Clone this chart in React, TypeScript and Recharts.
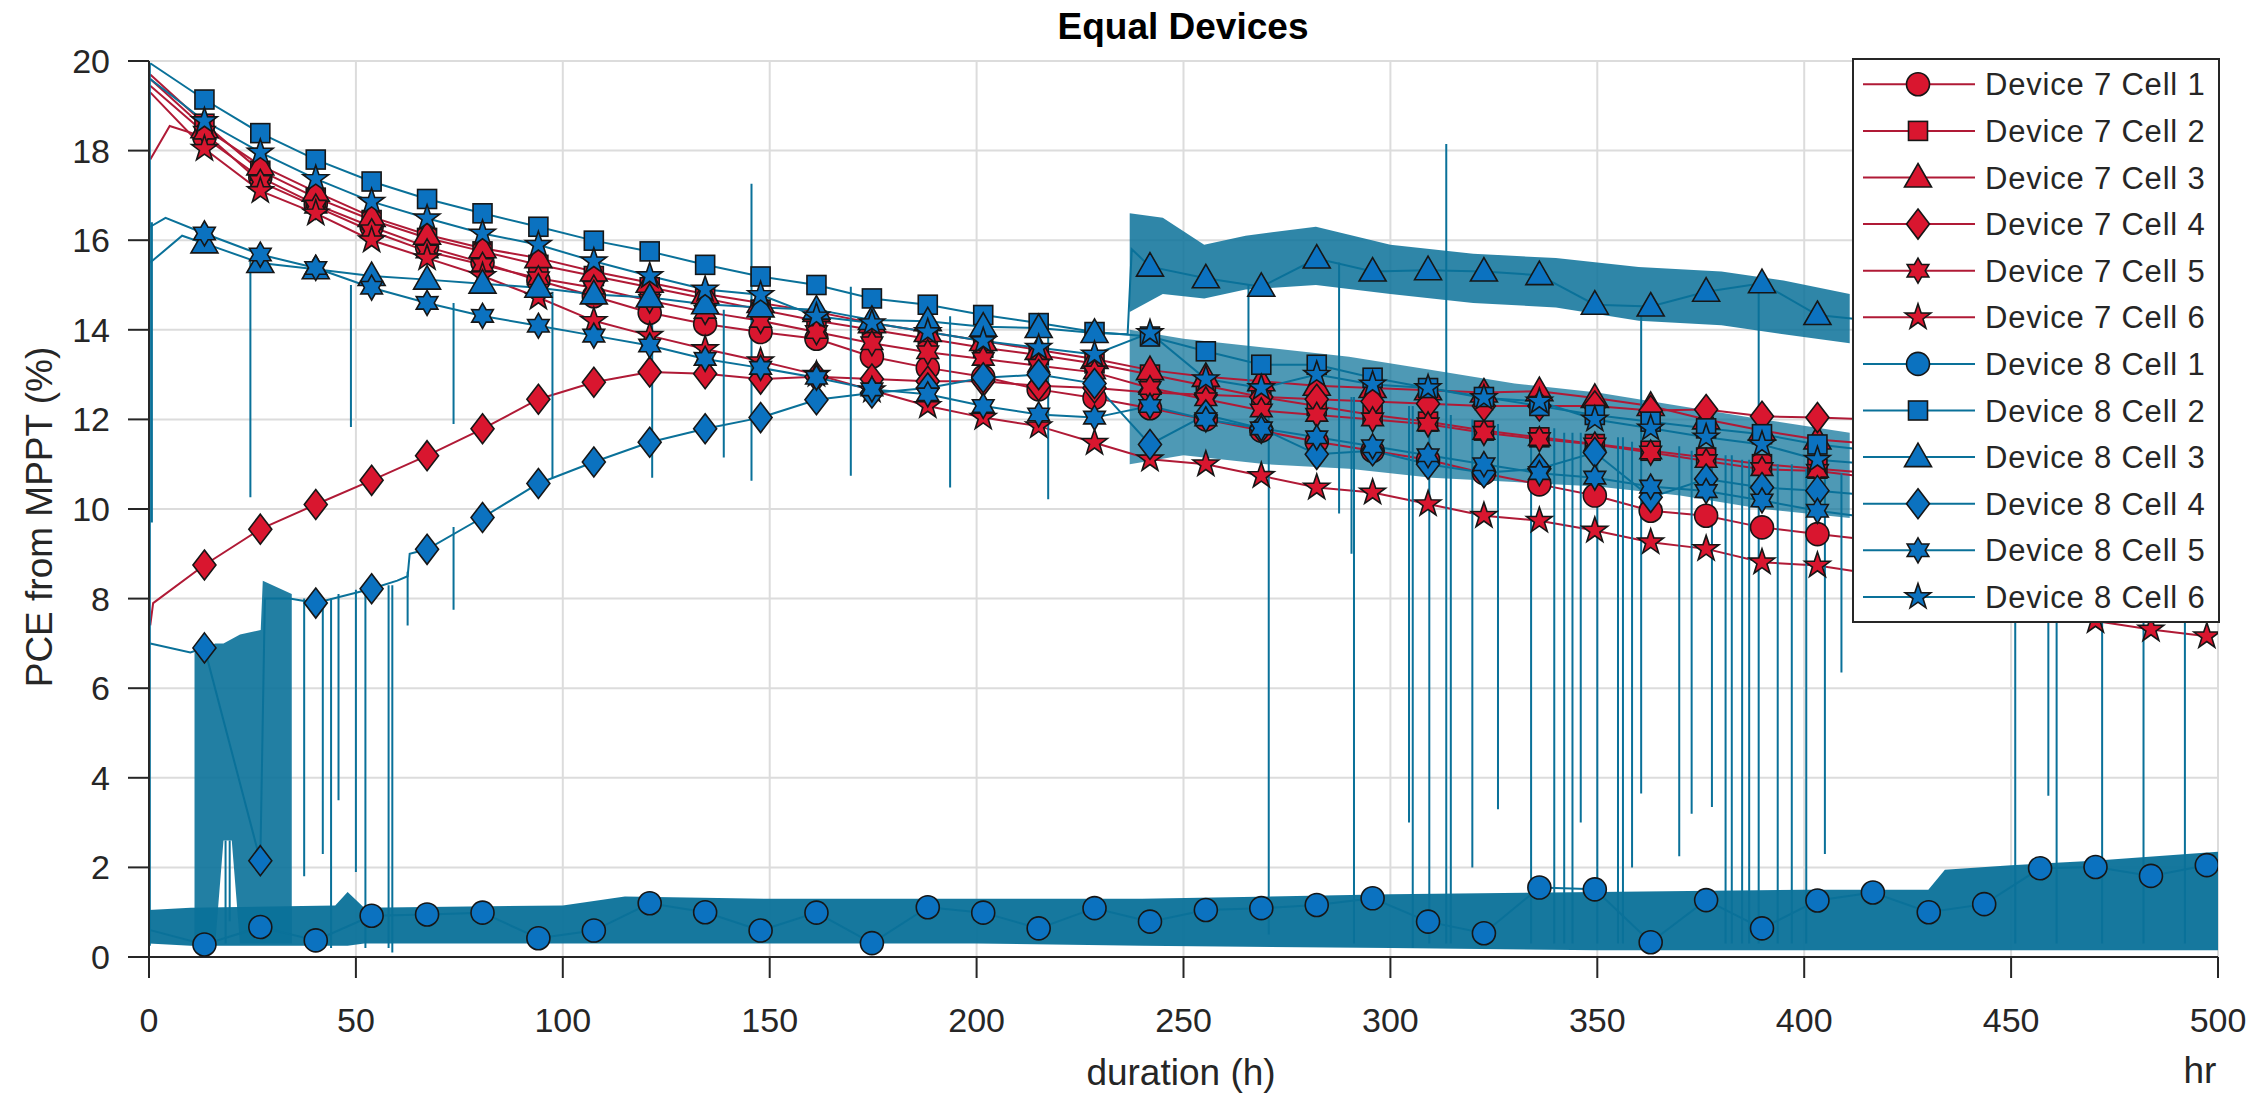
import React from "react";
import { ComposedChart, Line, Area, XAxis, YAxis, CartesianGrid } from "recharts";

const FONT = '"Liberation Sans", Arial, Helvetica, sans-serif';
const INK = "#262626";
const RED_LINE = "#b01a36";
const RED_FILL = "#d9162f";
const BLUE_LINE = "#0a7199";
const BLUE_FILL = "#0b72c0";

// hours where the markers sit
const MARK_H = [
  13.4, 26.9, 40.3, 53.8, 67.2, 80.6, 94.1, 107.5, 121.0, 134.4, 147.8, 161.3, 174.7,
  188.2, 201.6, 215.0, 228.5, 241.9, 255.4, 268.8, 282.2, 295.7, 309.1, 322.6, 336.0,
  349.4, 362.9, 376.3, 389.8, 403.2, 416.6, 430.1, 443.5, 457.0, 470.4, 483.8, 497.3,
];

// PCE (%) at each marker
const D7C1 = [18.3, 17.4, 16.8, 16.3, 15.85, 15.5, 15.1, 14.75, 14.38, 14.13, 13.95, 13.8, 13.4, 13.15, 12.95, 12.67, 12.48, 12.25, 12.0, 11.75, 11.5, 11.3, 11.1, 10.8, 10.55, 10.3, 9.96, 9.85, 9.59, 9.44, 9.3];
const D7C2 = [18.6, 17.55, 16.95, 16.45, 16.05, 15.75, 15.45, 15.2, 14.95, 14.7, 14.45, 14.2, 14.0, 13.8, 13.6, 13.44, 13.25, 13.0, 12.75, 12.5, 12.3, 12.1, 11.95, 11.75, 11.6, 11.45, 11.3, 11.15, 11.0, 10.9, 10.8];
const D7C3 = [18.5, 17.67, 17.08, 16.52, 16.12, 15.82, 15.6, 15.3, 15.05, 14.8, 14.6, 14.4, 14.15, 13.95, 13.75, 13.55, 13.35, 13.1, 12.95, 12.85, 12.75, 12.7, 12.65, 12.6, 12.63, 12.48, 12.3, 12.0, 11.75, 11.55, 11.45];
const D7C4 = [8.75, 9.55, 10.1, 10.64, 11.19, 11.79, 12.45, 12.83, 13.06, 13.02, 12.9, 12.95, 12.9, 12.85, 12.85, 12.75, 12.7, 12.6, 12.55, 12.5, 12.45, 12.4, 12.35, 12.3, 12.3, 12.3, 12.2, 12.22, 12.07, 12.04, 12.0];
const D7C5 = [18.4, 17.3, 16.75, 16.2, 15.75, 15.45, 15.15, 14.94, 14.65, 14.4, 14.2, 13.95, 13.7, 13.5, 13.35, 13.2, 13.05, 12.7, 12.45, 12.2, 12.1, 12.0, 11.89, 11.7, 11.56, 11.44, 11.26, 11.07, 10.89, 10.85, 10.7];
const D7C6 = [18.04, 17.1, 16.6, 16.0, 15.6, 15.2, 14.72, 14.2, 13.87, 13.57, 13.3, 13.0, 12.65, 12.3, 12.04, 11.85, 11.48, 11.11, 11.0, 10.74, 10.48, 10.37, 10.11, 9.85, 9.74, 9.52, 9.26, 9.11, 8.81, 8.74, 8.55, 8.35, 8.1, 7.9, 7.5, 7.31, 7.16];
const D8C1 = [0.28, 0.67, 0.37, 0.92, 0.95, 0.99, 0.42, 0.59, 1.2, 1.0, 0.59, 0.99, 0.31, 1.11, 0.99, 0.64, 1.09, 0.79, 1.05, 1.09, 1.16, 1.31, 0.79, 0.53, 1.55, 1.51, 0.33, 1.27, 0.64, 1.26, 1.44, 1.0, 1.18, 1.98, 2.01, 1.81, 2.05];
const D8C2 = [19.14, 18.39, 17.8, 17.31, 16.92, 16.6, 16.3, 15.99, 15.75, 15.45, 15.19, 15.0, 14.7, 14.56, 14.33, 14.15, 13.95, 13.85, 13.52, 13.22, 13.22, 12.93, 12.7, 12.5, 12.3, 12.1, 11.95, 11.8, 11.67, 11.44, 11.3];
const D8C3 = [15.93, 15.49, 15.35, 15.2, 15.12, 15.03, 14.94, 14.79, 14.72, 14.57, 14.5, 14.45, 14.22, 14.19, 14.07, 14.04, 13.93, 15.41, 15.15, 14.96, 15.59, 15.3, 15.33, 15.3, 15.22, 14.56, 14.52, 14.85, 15.04, 14.33, 14.2];
const D8C4 = [6.9, 2.15, 7.9, 8.22, 9.1, 9.81, 10.57, 11.05, 11.49, 11.79, 12.04, 12.44, 12.59, 12.7, 12.93, 13.0, 12.8, 11.44, 12.1, 11.8, 11.22, 11.3, 11.0, 10.81, 10.9, 11.26, 10.26, 10.67, 10.48, 10.41, 10.3];
const D8C5 = [16.15, 15.68, 15.38, 14.94, 14.6, 14.31, 14.09, 13.87, 13.65, 13.35, 13.15, 12.93, 12.67, 12.56, 12.3, 12.11, 12.04, 12.3, 12.0, 11.8, 11.6, 11.4, 11.2, 11.0, 10.8, 10.7, 10.5, 10.4, 10.19, 9.96, 9.8];
const D8C6 = [18.66, 17.96, 17.37, 16.86, 16.49, 16.15, 15.9, 15.53, 15.2, 14.9, 14.78, 14.3, 14.15, 13.95, 13.75, 13.6, 13.45, 13.93, 12.9, 12.7, 13.0, 12.78, 12.7, 12.48, 12.4, 12.0, 11.8, 11.6, 11.44, 11.1, 11.0];

// unmarked points [hour, PCE]: start-up and jumps
const PTS_D7C1 = [[0.3, 17.8], [5, 18.55]];
const PTS_D7C2 = [[0.3, 19.7]];
const PTS_D7C3 = [[0.3, 19.6]];
const PTS_D7C4 = [[0.3, 7.4], [1, 7.9]];
const PTS_D7C5 = [[0.3, 19.45]];
const PTS_D7C6 = [[0.3, 19.3]];
const PTS_D8C1 = [[0.3, 0.6]];
const PTS_D8C2 = [[0.3, 19.95]];
const PTS_D8C3 = [[0.3, 15.5], [8, 16.1], [236.5, 13.9], [237.5, 15.8]];
const PTS_D8C4 = [[0.3, 7.0], [10, 6.8], [28, 8.0], [34, 8.0], [60, 8.4], [62.5, 8.5], [63, 9.0]];
const PTS_D8C5 = [[0.3, 16.3], [4, 16.5]];
const PTS_D8C6 = [[0.3, 19.6]];

// noisy envelopes: hour, low, high
const BAND81_H = [0, 10, 45, 48, 52, 100, 115, 150, 200, 240, 300, 350, 400, 430, 434, 450, 470, 500];
const BAND81_LO = [0.3, 0.25, 0.25, 0.25, 0.3, 0.3, 0.3, 0.3, 0.3, 0.25, 0.2, 0.15, 0.15, 0.15, 0.15, 0.15, 0.15, 0.15];
const BAND81_HI = [1.05, 1.1, 1.15, 1.45, 1.1, 1.15, 1.35, 1.3, 1.3, 1.3, 1.4, 1.45, 1.5, 1.5, 1.95, 2.05, 2.15, 2.35];
const BAND84_H = [11, 16, 18, 20, 22, 27, 27.5, 34.5];
const BAND84_LO = [0.3, 0.3, 2.6, 2.6, 0.3, 0.3, 0.3, 0.3];
const BAND84_HI = [6.8, 7.0, 7.0, 7.1, 7.2, 7.3, 8.4, 8.1];
const BAND83_H = [237, 245, 255, 265, 282, 300, 320, 340, 360, 380, 395, 411];
const BAND83_LO = [14.4, 14.8, 14.7, 14.9, 15.0, 14.8, 14.6, 14.5, 14.2, 14.1, 13.9, 13.7];
const BAND83_HI = [16.6, 16.5, 15.9, 16.1, 16.3, 15.9, 15.7, 15.6, 15.4, 15.3, 15.1, 14.8];
const BANDLC_H = [237, 250, 270, 290, 310, 330, 350, 370, 390, 411];
const BANDLC_LO = [11.0, 11.2, 11.0, 10.9, 10.7, 10.6, 10.5, 10.3, 10.0, 9.8];
const BANDLC_HI = [14.0, 13.8, 13.6, 13.4, 13.1, 12.8, 12.6, 12.3, 12.0, 11.7];

// dropouts / spikes: hour, top, bottom
const SPIKES = [
  [0.2, 19.95, 0.25], [0.7, 16.4, 9.7],
  [24.5, 15.55, 10.26], [48.8, 15.0, 11.83], [73.6, 14.6, 11.9], [97.5, 14.85, 10.7],
  [121.6, 14.6, 10.7], [138.9, 14.45, 11.15], [145.6, 17.26, 10.63], [169.6, 14.96, 10.74],
  [193.6, 14.3, 10.48], [217.3, 13.95, 10.22],
  [18.5, 2.6, 0.3], [19.5, 2.6, 0.8],
  [37.5, 8.0, 1.8], [42, 8.0, 2.3], [44, 8.0, 0.2], [45.8, 8.1, 3.5], [50, 8.2, 1.9],
  [52.3, 8.2, 0.2], [57.9, 8.3, 0.2], [58.8, 8.3, 0.1], [62.5, 8.6, 7.4], [73.6, 9.6, 7.75],
  [265.7, 15.0, 12.6], [270.6, 12.8, 0.5], [287.6, 15.5, 9.9], [290.6, 12.5, 9.0], [291.2, 12.5, 0.3],
  [304.5, 12.3, 3.0], [305.4, 12.3, 0.2], [309.4, 12.2, 0.3], [313.5, 18.15, 0.3], [314.6, 12.1, 0.3],
  [319.8, 12.0, 2.0], [326, 11.9, 3.3], [334, 11.8, 0.3], [339.6, 11.8, 0.3], [342, 11.7, 0.3],
  [344, 11.7, 0.3], [346, 11.7, 3.0], [350, 11.6, 0.3], [355, 11.6, 0.3], [356.2, 11.6, 0.3],
  [358.4, 11.5, 2.0], [360.6, 14.5, 3.65], [369.8, 11.4, 2.25], [372.8, 11.3, 3.2], [377.7, 11.3, 3.35],
  [381, 11.2, 0.3], [382.5, 11.2, 0.3], [385, 11.1, 0.3], [386.7, 11.1, 0.3], [389, 15.0, 0.3],
  [393.6, 11.0, 0.3], [397, 11.0, 0.3], [400.5, 10.9, 0.3], [405, 10.8, 2.3], [409, 10.8, 6.35],
  [451, 10.0, 0.3], [459, 10.0, 3.6], [461, 10.0, 0.3], [472, 10.0, 0.3], [482, 10.0, 0.3], [492, 10.0, 0.3],
];

const X_TICKS = [0, 50, 100, 150, 200, 250, 300, 350, 400, 450, 500];
const Y_TICKS = [0, 2, 4, 6, 8, 10, 12, 14, 16, 18, 20];

const SERIES = [
  { name: "Device 7 Cell 1", dev: 7, shape: "circle", vals: D7C1, pts: PTS_D7C1 },
  { name: "Device 7 Cell 2", dev: 7, shape: "square", vals: D7C2, pts: PTS_D7C2 },
  { name: "Device 7 Cell 3", dev: 7, shape: "triangle", vals: D7C3, pts: PTS_D7C3 },
  { name: "Device 7 Cell 4", dev: 7, shape: "diamond", vals: D7C4, pts: PTS_D7C4 },
  { name: "Device 7 Cell 5", dev: 7, shape: "hexagram", vals: D7C5, pts: PTS_D7C5 },
  { name: "Device 7 Cell 6", dev: 7, shape: "pentagram", vals: D7C6, pts: PTS_D7C6 },
  { name: "Device 8 Cell 1", dev: 8, shape: "circle", vals: D8C1, pts: PTS_D8C1 },
  { name: "Device 8 Cell 2", dev: 8, shape: "square", vals: D8C2, pts: PTS_D8C2 },
  { name: "Device 8 Cell 3", dev: 8, shape: "triangle", vals: D8C3, pts: PTS_D8C3 },
  { name: "Device 8 Cell 4", dev: 8, shape: "diamond", vals: D8C4, pts: PTS_D8C4 },
  { name: "Device 8 Cell 5", dev: 8, shape: "hexagram", vals: D8C5, pts: PTS_D8C5 },
  { name: "Device 8 Cell 6", dev: 8, shape: "pentagram", vals: D8C6, pts: PTS_D8C6 },
];

const lineData = (s: any) =>
  [
    ...s.pts.map(([h, v]: number[]) => ({ h, v })),
    ...s.vals.map((v: number, i: number) => ({ h: MARK_H[i], v, m: true })),
  ].sort((a, b) => a.h - b.h);

const bandData = (hs: number[], lo: number[], hi: number[]) =>
  hs.map((h, i) => ({ h, r: [lo[i], hi[i]] }));

const spikeData = SPIKES.flatMap(([h, top, bot]) => [{ h, v: top }, { h, v: bot }, { h, v: null }]);

function starPts(x: number, y: number, n: number, R: number, r: number) {
  const out: string[] = [];
  for (let k = 0; k < 2 * n; k++) {
    const a = -Math.PI / 2 + (k * Math.PI) / n;
    const rad = k % 2 === 0 ? R : r;
    out.push(`${x + rad * Math.cos(a)},${y + rad * Math.sin(a)}`);
  }
  return out.join(" ");
}

function Marker({ shape, x, y, fill }: any) {
  const st = { fill, stroke: "#161616", strokeWidth: 1.6 };
  if (shape === "circle") return <circle cx={x} cy={y} r={11.5} {...st} />;
  if (shape === "square") return <rect x={x - 9.5} y={y - 9.5} width={19} height={19} {...st} />;
  if (shape === "triangle")
    return <polygon points={`${x},${y - 14} ${x + 13.5},${y + 9.5} ${x - 13.5},${y + 9.5}`} {...st} />;
  if (shape === "diamond")
    return <polygon points={`${x},${y - 15} ${x + 11.5},${y} ${x},${y + 15} ${x - 11.5},${y}`} {...st} />;
  if (shape === "hexagram") return <polygon points={starPts(x, y, 6, 12.5, 7.2)} {...st} />;
  return <polygon points={starPts(x, y, 5, 13.5, 5.3)} {...st} />;
}

const markerDot = (shape: string, fill: string) => (props: any) => {
  const { cx, cy, payload, index } = props;
  if (!payload || !payload.m || cx == null || cy == null) return <g key={index} />;
  return (
    <g key={index}>
      <Marker shape={shape} x={cx} y={cy} fill={fill} />
    </g>
  );
};

function LegendBox() {
  const rowY = (i: number) => 26.3 + i * 46.6;
  return (
    <div
      style={{
        position: "absolute", left: 1852, top: 58, width: 368, height: 565,
        background: "#fff", border: `2px solid ${INK}`, boxSizing: "border-box",
      }}
    >
      <svg width={364} height={561} style={{ position: "absolute", left: 0, top: 0 }}>
        {SERIES.map((s, i) => {
          const y = rowY(i) - 2;
          const red = s.dev === 7;
          return (
            <g key={s.name}>
              <line x1={9} x2={121} y1={y} y2={y} stroke={red ? RED_LINE : BLUE_LINE} strokeWidth={2} />
              <Marker shape={s.shape} x={64} y={y} fill={red ? RED_FILL : BLUE_FILL} />
              <text x={131} y={y + 11} fontSize={31} fill={INK} fontFamily={FONT} letterSpacing={0.8}>
                {s.name}
              </text>
            </g>
          );
        })}
      </svg>
    </div>
  );
}

export default function App() {
  const tick = { fill: INK, fontSize: 34, fontFamily: FONT };
  const axisLine = { stroke: INK, strokeWidth: 2 };
  return (
    <div style={{ position: "absolute", left: 0, top: 0, width: 2266, height: 1096, background: "#fff", fontFamily: FONT }}>
      <ComposedChart width={2266} height={1096} margin={{ top: 61, right: 48, bottom: 0, left: 0 }}>
        <CartesianGrid stroke="#dcdcdc" strokeWidth={2} />
        <XAxis
          type="number" dataKey="h" domain={[0, 500]} ticks={X_TICKS} interval={0} allowDataOverflow
          height={139} tickSize={21} tickMargin={30} tick={tick} axisLine={axisLine} tickLine={axisLine}
        />
        <YAxis
          type="number" domain={[0, 20]} ticks={Y_TICKS} interval={0} allowDataOverflow
          width={149} tickSize={21} tickMargin={18} tick={tick} axisLine={axisLine} tickLine={axisLine}
        />
        {SERIES.filter((s) => s.dev === 7).map((s) => (
          <Line
            key={s.name} name={s.name} data={lineData(s)} dataKey="v" type="linear"
            stroke={RED_LINE} strokeWidth={2} dot={markerDot(s.shape, RED_FILL)} activeDot={false}
            isAnimationActive={false}
          />
        ))}
        <Area data={bandData(BAND81_H, BAND81_LO, BAND81_HI)} dataKey="r" type="linear" stroke="none" fill={BLUE_LINE} fillOpacity={0.95} isAnimationActive={false} />
        <Area data={bandData(BAND84_H, BAND84_LO, BAND84_HI)} dataKey="r" type="linear" stroke="none" fill={BLUE_LINE} fillOpacity={0.9} isAnimationActive={false} />
        <Area data={bandData(BAND83_H, BAND83_LO, BAND83_HI)} dataKey="r" type="linear" stroke="none" fill={BLUE_LINE} fillOpacity={0.85} isAnimationActive={false} />
        <Area data={bandData(BANDLC_H, BANDLC_LO, BANDLC_HI)} dataKey="r" type="linear" stroke="none" fill={BLUE_LINE} fillOpacity={0.72} isAnimationActive={false} />
        <Line data={spikeData} dataKey="v" type="linear" stroke={BLUE_LINE} strokeWidth={2} dot={false} activeDot={false} isAnimationActive={false} />
        {SERIES.filter((s) => s.dev === 8).map((s) => (
          <Line
            key={s.name} name={s.name} data={lineData(s)} dataKey="v" type="linear"
            stroke={BLUE_LINE} strokeWidth={2} dot={markerDot(s.shape, BLUE_FILL)} activeDot={false}
            isAnimationActive={false}
          />
        ))}
      </ComposedChart>

      <div style={{ position: "absolute", left: 1183, top: 8, transform: "translateX(-50%)", fontSize: 37, lineHeight: "37px", fontWeight: 700, color: "#000", whiteSpace: "nowrap" }}>
        Equal Devices
      </div>
      <div style={{ position: "absolute", left: 39, top: 517, transform: "translate(-50%, -50%) rotate(-90deg)", fontSize: 37, lineHeight: "37px", color: INK, whiteSpace: "nowrap" }}>
        PCE from MPPT (%)
      </div>
      <div style={{ position: "absolute", left: 1181, top: 1054, transform: "translateX(-50%)", fontSize: 37, lineHeight: "37px", color: INK, whiteSpace: "nowrap" }}>
        duration (h)
      </div>
      <div style={{ position: "absolute", left: 2200, top: 1052, transform: "translateX(-50%)", fontSize: 37, lineHeight: "37px", color: INK, whiteSpace: "nowrap" }}>
        hr
      </div>
      <LegendBox />
    </div>
  );
}
